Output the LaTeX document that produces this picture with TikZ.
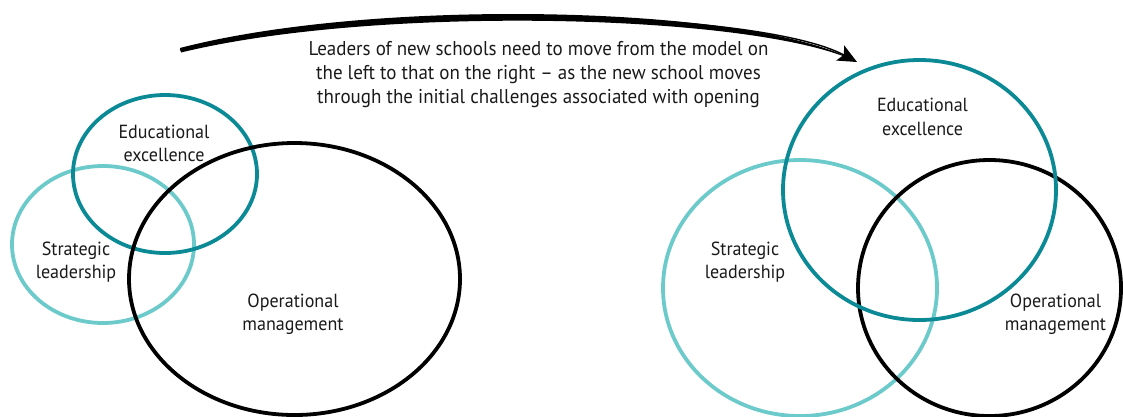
\documentclass[tikz,border=0pt]{standalone}
\usepackage{fontspec}
\setmainfont[FakeStretch=0.95]{PT Sans}
\usetikzlibrary{arrows.meta,shapes.geometric}
\definecolor{eduteal}{HTML}{0B8A96}
\definecolor{stratteal}{HTML}{6DCACA}
\definecolor{textgrey}{HTML}{1A1A1A}

\begin{document}
\begin{tikzpicture}[x=1pt,y=-1pt,
  ring/.style={ellipse, draw, line width=3.8pt, inner sep=0pt},
  lbl/.style={anchor=base, inner sep=0pt, text=textgrey,
              font=\fontsize{19}{23}\selectfont},
  caption/.style={lbl, font=\fontsize{20}{24}\selectfont}]
\useasboundingbox (0,0) rectangle (1123,416);

% ---- left model: small leadership circles, large operational ellipse
\node[ring, stratteal, minimum width=182pt, minimum height=157pt] (stratL) at (103,244.5) {};
\node[ring, eduteal,   minimum width=184pt, minimum height=158pt] (eduL)   at (165,174) {};
\node[ring, black,     minimum width=331pt, minimum height=272pt] (opL)    at (294.5,279) {};

\node[lbl] (eduL1)   at (164,138) {Educational};
\node[lbl] (eduL2)   at (164,161) {excellence};
\node[lbl] (stratL1) at (76,255)  {Strategic};
\node[lbl] (stratL2) at (76,278)  {leadership};
\node[lbl] (opL1)    at (293,307) {Operational};
\node[lbl] (opL2)    at (293,330) {management};

% ---- right model: three balanced circles
\node[ring, stratteal, minimum width=274pt, minimum height=256pt] (stratR) at (800,288) {};
\node[ring, black,     minimum width=263pt, minimum height=256pt] (opR)    at (989.5,288) {};
\node[ring, eduteal,   minimum width=273pt, minimum height=260pt] (eduR)   at (919.5,190) {};

\node[lbl] (eduR1)   at (922.5,111) {Educational};
\node[lbl] (eduR2)   at (922.5,135) {excellence};
\node[lbl] (stratR1) at (745,255)   {Strategic};
\node[lbl] (stratR2) at (745,278)   {leadership};
\node[lbl] (opR1)    at (1055.5,307) {Operational};
\node[lbl] (opR2)    at (1055.5,330) {management};

% ---- caption
\node[caption] (cap1) at (538.5,55)  {Leaders of new schools need to move from the model on};
\node[caption] (cap2) at (538.5,79)  {the left to that on the right -- as the new school moves};
\node[caption] (cap3) at (538.5,103) {through the initial challenges associated with opening};

% ---- tapered transition arrow
\coordinate (arrowStart) at (180,50);
\coordinate (arrowEnd)   at (857,62);
\fill[black] (180,48) .. controls (380,-4) and (760,6) .. (arrowEnd)
             .. controls (760,14) and (380,4) .. (181,52.5) -- cycle;
\draw[line width=1.4pt, -{Stealth[length=19pt,width=17pt,inset=4pt]}]
  (arrowStart) .. controls (380,0) and (760,10) .. (arrowEnd);
\end{tikzpicture}
\end{document}
